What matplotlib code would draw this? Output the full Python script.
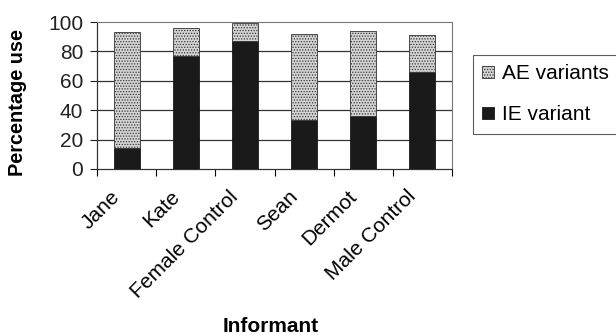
import matplotlib
matplotlib.use("Agg")
import matplotlib.pyplot as plt
import matplotlib.transforms as mtransforms
import numpy as np

plt.rcParams['font.family'] = ['Liberation Sans', 'DejaVu Sans']
plt.rcParams['hatch.color'] = '#707070'
plt.rcParams['hatch.linewidth'] = 0.6

informants = ["Jane", "Kate", "Female Control", "Sean", "Dermot", "Male Control"]
ie_variant = [14, 77, 87, 33, 36, 66]
ae_variants = [79, 19, 12, 59, 58, 25]

fig = plt.figure(figsize=(6.16, 3.35), dpi=100)
ax = fig.add_axes([97/616, 1-169/335, 355/616, 147/335])

x = np.arange(len(informants))
w = 0.44
ax.bar(x, ie_variant, w, color='#1a1a1a', edgecolor='#1a1a1a', linewidth=0.6,
       label='IE variant', zorder=3)
ax.bar(x, ae_variants, w, bottom=ie_variant, color='#d4d4d4', edgecolor='#333333',
       linewidth=0.6, hatch='......', label='AE variants', zorder=3)

ax.set_xlim(-0.5, len(informants) - 0.5)
ax.set_ylim(0, 100)
ax.set_yticks([0, 20, 40, 60, 80, 100])
ax.tick_params(axis='y', labelsize=15, length=5, width=0.8, pad=5, colors='#222222')

# category boundaries carry the tick marks, names sit at the bar centres
ax.set_xticks(np.arange(-0.5, len(informants)), minor=False)
ax.set_xticklabels([])
ax.set_xticks(x, minor=True)
ax.set_xticklabels(informants, minor=True, rotation=45, ha='right',
                   rotation_mode='anchor', fontsize=15)
ax.tick_params(axis='x', which='major', length=5, width=0.8, direction='out')
ax.tick_params(axis='x', which='minor', length=0, pad=13)
shift = mtransforms.ScaledTranslation(-16/100, 0, fig.dpi_scale_trans)
for lbl in ax.get_xticklabels(minor=True):
    lbl.set_transform(lbl.get_transform() + shift)

for yv in [20, 40, 60, 80]:
    ax.axhline(yv, color='#333333', linewidth=0.9, zorder=1)

for s in ['top', 'right']:
    ax.spines[s].set_linestyle((0, (1, 1)))
    ax.spines[s].set_color('#777777')
    ax.spines[s].set_linewidth(0.8)
for s in ['left', 'bottom']:
    ax.spines[s].set_color('#333333')
    ax.spines[s].set_linewidth(0.9)

fig.text(18/616, 1-102/335, "Percentage use", rotation=90, ha='center', va='center',
         fontsize=14.3, fontweight='bold')
fig.text(271/616, 1-327/335, "Informant", ha='center', va='center',
         fontsize=15, fontweight='bold')

handles, labels = ax.get_legend_handles_labels()
leg = fig.legend(handles[::-1], labels[::-1], loc='upper left',
                 bbox_to_anchor=(473/616, 1-55/335), fontsize=15,
                 frameon=True, fancybox=False, edgecolor='#333333',
                 handlelength=0.55, handleheight=0.55, handletextpad=0.4,
                 borderpad=0.45, labelspacing=1.05, borderaxespad=0)
leg.get_frame().set_linewidth(0.8)

fig.savefig("out.png", dpi=100, facecolor='white')
